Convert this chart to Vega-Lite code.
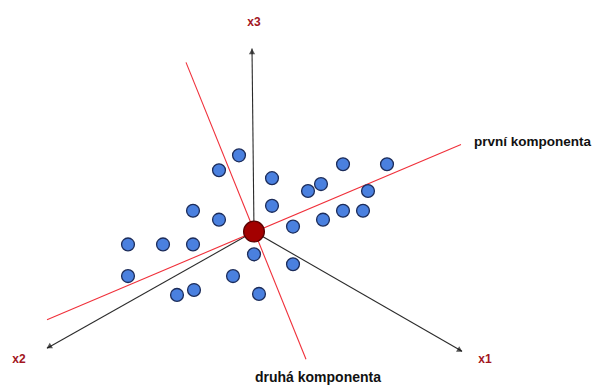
{
  "$schema": "https://vega.github.io/schema/vega-lite/v6.json",
  "width": 594,
  "height": 385,
  "padding": 0,
  "autosize": {"type": "fit", "contains": "padding"},
  "config": {"view": {"stroke": null}, "font": "Liberation Sans"},
  "background": "white",
  "datasets": {
    "lines": [
      {"name": "x3", "kind": "axis", "x": 254, "y": 234, "x2": 252, "y2": 49},
      {"name": "x2", "kind": "axis", "x": 254, "y": 234, "x2": 47, "y2": 352},
      {"name": "x1", "kind": "axis", "x": 254, "y": 234, "x2": 462, "y2": 355},
      {"name": "prvni", "kind": "comp", "x": 47, "y": 323, "x2": 461, "y2": 146},
      {"name": "druha", "kind": "comp", "x": 186, "y": 63, "x2": 306, "y2": 363}
    ],
    "heads": [
      {"name": "x3", "x": 252, "y": 52},
      {"name": "x2", "x": 49, "y": 350.5},
      {"name": "x1", "x": 460, "y": 354}
    ],
    "points": [
      {"x": 239, "y": 157}, {"x": 219, "y": 172}, {"x": 272, "y": 180},
      {"x": 193, "y": 213}, {"x": 219, "y": 222}, {"x": 272, "y": 208},
      {"x": 128, "y": 247}, {"x": 163, "y": 247}, {"x": 193, "y": 247},
      {"x": 128, "y": 279}, {"x": 233, "y": 279}, {"x": 194, "y": 293},
      {"x": 177, "y": 298}, {"x": 259, "y": 297}, {"x": 254, "y": 257},
      {"x": 293, "y": 229}, {"x": 293, "y": 267}, {"x": 343, "y": 166},
      {"x": 387, "y": 166}, {"x": 321, "y": 186}, {"x": 308, "y": 193},
      {"x": 368, "y": 193}, {"x": 343, "y": 213}, {"x": 363, "y": 213},
      {"x": 323, "y": 222}
    ],
    "center": [{"x": 254, "y": 234}],
    "axislabels": [
      {"label": "x3", "x": 254, "y": 22},
      {"label": "x2", "x": 19, "y": 363},
      {"label": "x1", "x": 485, "y": 363}
    ],
    "complabels": [
      {"label": "první komponenta", "x": 474, "y": 143, "pos": "right"},
      {"label": "druhá komponenta", "x": 318, "y": 382, "pos": "bottom"}
    ]
  },
  "encoding": {
    "x": {"field": "x", "type": "quantitative", "scale": {"domain": [0, 594], "nice": false, "zero": false}, "axis": null},
    "y": {"field": "y", "type": "quantitative", "scale": {"domain": [0, 385], "nice": false, "zero": false, "reverse": true}, "axis": null}
  },
  "layer": [
    {
      "data": {"name": "lines"},
      "mark": {"type": "rule", "strokeWidth": 1.1},
      "encoding": {
        "x2": {"field": "x2"},
        "y2": {"field": "y2"},
        "color": {"field": "kind", "type": "nominal", "scale": {"domain": ["axis", "comp"], "range": ["#2b2b2b", "#f0303a"]}, "legend": null}
      }
    },
    {
      "data": {"name": "heads"},
      "transform": [{"filter": "datum.name === 'x3'"}],
      "mark": {"type": "point", "shape": "triangle-up", "filled": true, "color": "#111111", "size": 40, "angle": 0}
    },
    {
      "data": {"name": "heads"},
      "transform": [{"filter": "datum.name === 'x2'"}],
      "mark": {"type": "point", "shape": "triangle-up", "filled": true, "color": "#111111", "size": 40, "angle": 240}
    },
    {
      "data": {"name": "heads"},
      "transform": [{"filter": "datum.name === 'x1'"}],
      "mark": {"type": "point", "shape": "triangle-up", "filled": true, "color": "#111111", "size": 40, "angle": 120}
    },
    {
      "data": {"name": "points"},
      "mark": {"type": "point", "shape": "circle", "filled": true, "fill": "#4a80df", "fillOpacity": 1, "stroke": "#1c2c5a", "strokeWidth": 1.3, "size": 165, "opacity": 1}
    },
    {
      "data": {"name": "center"},
      "mark": {"type": "point", "shape": "circle", "filled": true, "fill": "#a30000", "fillOpacity": 1, "stroke": "#5a0000", "strokeWidth": 1.3, "size": 430, "opacity": 1}
    },
    {
      "data": {"name": "axislabels"},
      "mark": {"type": "text", "fontSize": 12, "fontWeight": "bold", "color": "#a3161e", "align": "center", "baseline": "middle"},
      "encoding": {"text": {"field": "label"}}
    },
    {
      "data": {"name": "complabels"},
      "transform": [{"filter": "datum.pos === 'right'"}],
      "mark": {"type": "text", "fontSize": 13.5, "fontWeight": "bold", "color": "#111111", "align": "left", "baseline": "middle"},
      "encoding": {"text": {"field": "label"}}
    },
    {
      "data": {"name": "complabels"},
      "transform": [{"filter": "datum.pos === 'bottom'"}],
      "mark": {"type": "text", "fontSize": 14, "fontWeight": "bold", "color": "#111111", "align": "center", "baseline": "middle"},
      "encoding": {"text": {"field": "label"}}
    }
  ]
}
